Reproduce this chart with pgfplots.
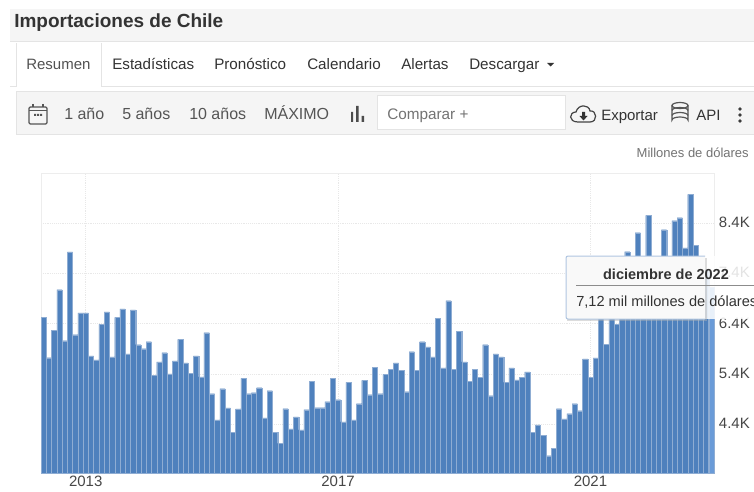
\documentclass[border=0pt]{standalone}
\usepackage{fontspec}
\setmainfont{Liberation Sans}
\usepackage{pgfplots}
\pgfplotsset{compat=1.18}
\definecolor{barb}{HTML}{4F81BD}
\definecolor{barh}{HTML}{6A9BD8}
\definecolor{barl}{HTML}{8FADD3}
\definecolor{txt}{HTML}{333333}
\definecolor{stripe}{HTML}{F5F5F5}
\definecolor{bord}{HTML}{E4E4E4}
\definecolor{icon}{HTML}{555555}
\newcommand{\fs}[1]{\fontsize{\dimexpr #1pt*3/4\relax}{\dimexpr #1pt*9/10\relax}\selectfont}
\pgfplotstableread{
n v
1 6528
2 5724
3 6269
4 7079
5 6063
6 7829
7 6182
8 6614
9 6614
10 5757
11 5678
12 6388
13 6634
14 5737
15 6528
16 6694
17 5797
18 6674
19 5983
20 5903
21 6043
22 5372
23 5638
24 5824
25 5399
26 5658
27 6089
28 5618
29 5412
30 5757
31 5339
32 6222
33 5007
34 4482
35 5107
36 4721
37 4237
38 4702
39 5312
40 5007
41 5027
42 5126
43 4522
44 5067
45 4237
46 4018
47 4708
48 4303
49 4542
50 4283
51 4688
52 5253
53 4728
54 4728
55 4848
56 5312
57 4887
58 4443
59 5233
60 4482
61 4808
62 5273
63 4987
64 5532
65 5007
66 5392
67 5492
68 5618
69 5472
70 5047
71 5844
72 5472
73 6043
74 5937
75 5737
76 6508
77 5518
78 6860
79 5492
80 6249
81 5638
82 5253
83 5492
84 5332
85 5983
86 4967
87 5797
88 5737
89 5233
90 5518
91 5279
92 5332
93 5439
94 4237
95 4383
96 4177
97 3772
98 3918
99 4708
100 4502
101 4609
102 4808
103 4668
104 5698
105 5332
106 5717
107 6674
108 5990
109 6607
110 6388
111 6541
112 7836
113 7271
114 8214
115 7404
116 8559
117 7205
118 7537
119 8274
120 7603
121 8453
122 8513
123 7909
124 8978
125 7962
126 7670
127 7470
}\mydata
\begin{document}
\begin{tikzpicture}
\useasboundingbox (0pt,0pt) rectangle (565.5pt,-369pt);
\begin{scope}[x=0.75pt,y=-0.75pt]
\fill[white] (0,0) rectangle (754,492);
% header strip
\fill[stripe] (10,9) rectangle (754,42);
\draw[bord,line width=0.75pt] (10,42) -- (754,42);
\node[anchor=base west,inner sep=0,text=txt] at (14,28) {\fs{19}\bfseries Importaciones de Chile};
% tabs
\draw[bord,line width=0.75pt] (10,87) -- (16,87) -- (16,43);
\draw[bord,line width=0.75pt] (101,43) -- (101,87) -- (754,87);
\node[anchor=base west,inner sep=0,text=txt!85] at (26,70) {\fs{15}Resumen};
\node[anchor=base west,inner sep=0,text=txt] at (112,70) {\fs{15.2}Estadísticas};
\node[anchor=base west,inner sep=0,text=txt] at (214,70) {\fs{15.2}Pronóstico};
\node[anchor=base west,inner sep=0,text=txt] at (307,70) {\fs{15.2}Calendario};
\node[anchor=base west,inner sep=0,text=txt] at (401,70) {\fs{15.2}Alertas};
\node[anchor=base west,inner sep=0,text=txt] at (469,70) {\fs{15.2}Descargar};
\fill[txt] (547,63) -- (554,63) -- (550.5,66.5) -- cycle;
% toolbar
\fill[stripe] (16,92) rectangle (754,135);
\draw[bord,line width=0.75pt] (754,92) -- (16,92) -- (16,135) -- (754,135);
\draw[icon,line width=0.9pt,rounded corners=1pt] (29,107) rectangle (47,124);
\draw[icon,line width=0.9pt] (29,110.5) -- (47,110.5) (33,104) -- (33,107) (43,104) -- (43,107);
\fill[icon] (34,114) rectangle (36,116) (37,114) rectangle (39,116) (40,114) rectangle (42,116);
\foreach \t/\x in {1 año/64,5 años/122,10 años/189,MÁXIMO/264}
  \node[anchor=base west,inner sep=0,text=icon] at (\x,120) {\fs{16}\t};
\fill[icon!90!black] (351,112) rectangle (353,122) (356,106) rectangle (358.5,122) (361.5,116) rectangle (364,122);
\fill[white] (377,96) rectangle (565,130);
\draw[bord,line width=0.75pt] (377,96) rectangle (565,130);
\node[anchor=base west,inner sep=0,text=black!55] at (387,119) {\fs{15.3}Comparar +};
% cloud icon
\draw[icon!80!black,line width=0.9pt] (578,122) .. controls (568,122) and (569,112) .. (576,112) .. controls (578,104) and (589,104) .. (590,111) .. controls (597,110) and (598,122) .. (590,122) -- cycle;
\fill[txt] (582,112) rectangle (585,116) (579.5,116) -- (587.5,116) -- (583.5,120.5) -- cycle;
\node[anchor=base west,inner sep=0,text=txt] at (601,121) {\fs{15}Exportar};
% database icon
\draw[icon,line width=0.9pt] (680,105.5) ellipse[x radius=8,y radius=3];
\draw[icon,line width=0.9pt] (672,105.5) -- (672,120) arc[start angle=180,end angle=360,x radius=8,y radius=3] -- (688,105.5);
\draw[icon,line width=0.9pt] (672,110.5) arc[start angle=180,end angle=360,x radius=8,y radius=3];
\draw[icon,line width=0.9pt] (672,115.5) arc[start angle=180,end angle=360,x radius=8,y radius=3];
\node[anchor=base west,inner sep=0,text=txt] at (696,121) {\fs{15}API};
\fill[icon!70!black] (740,109) circle[radius=1.8] (740,115) circle[radius=1.8] (740,121) circle[radius=1.8];
% unit
\node[anchor=base east,inner sep=0,text=black!55] at (749,157) {\fs{13}Millones de dólares};
\end{scope}
\begin{axis}[
  at={(30.75pt,-354.975pt)},anchor=south west,
  scale only axis,width=504.75pt,height=225pt,
  xmin=0.5,xmax=128.5,ymin=3420,ymax=9396,
  xtick={9,57,105},xticklabels={2013,2017,2021},
  ytick={4400,5400,6400,7400,8400},yticklabels={4.4K,5.4K,6.4K,7.4K,8.4K},
  yticklabel pos=right,
  ticklabel style={font=\fs{15},text=black!72},
  xticklabel style={yshift=1.2pt},
  yticklabel style={xshift=0.2pt,yshift=0.5pt},
  major tick length=0pt,
  xmajorgrids,ymajorgrids,
  grid style={draw=black!9,densely dotted,line width=0.6pt},
  axis line style={draw=black!7,line width=0.6pt},
  clip=false,
]
\addplot[ybar,bar width=1,bar shift=0pt,fill=barb,draw=barl,line width=0.15pt] table[x=n,y=v] {\mydata};
\addplot[ybar,bar width=1,bar shift=0pt,fill=barh,draw=barl,line width=0.15pt] coordinates {(128,7120)};
\end{axis}
\begin{scope}[x=0.75pt,y=-0.75pt]
\fill[white,opacity=0.85] (705,256) rectangle (754,319);
\fill[black!30,opacity=0.45] (567,257.5) rectangle (706.5,320.5);
\fill[stripe!60!white] (566,256) rectangle (705,319);
\draw[barb!45!white,line width=0.75pt,rounded corners=1.5pt] (705,256) -- (566,256) -- (566,319) -- (705,319);
\draw[black!45,line width=0.7pt] (576,285) -- (754,285);
\node[anchor=base,inner sep=0,text=txt] at (666,279) {\fs{14.5}\bfseries diciembre de 2022};
\node[anchor=base west,inner sep=0,text=txt] at (576,306) {\fs{14.6}7,12 mil millones de dólares};
\end{scope}
\end{tikzpicture}
\end{document}
